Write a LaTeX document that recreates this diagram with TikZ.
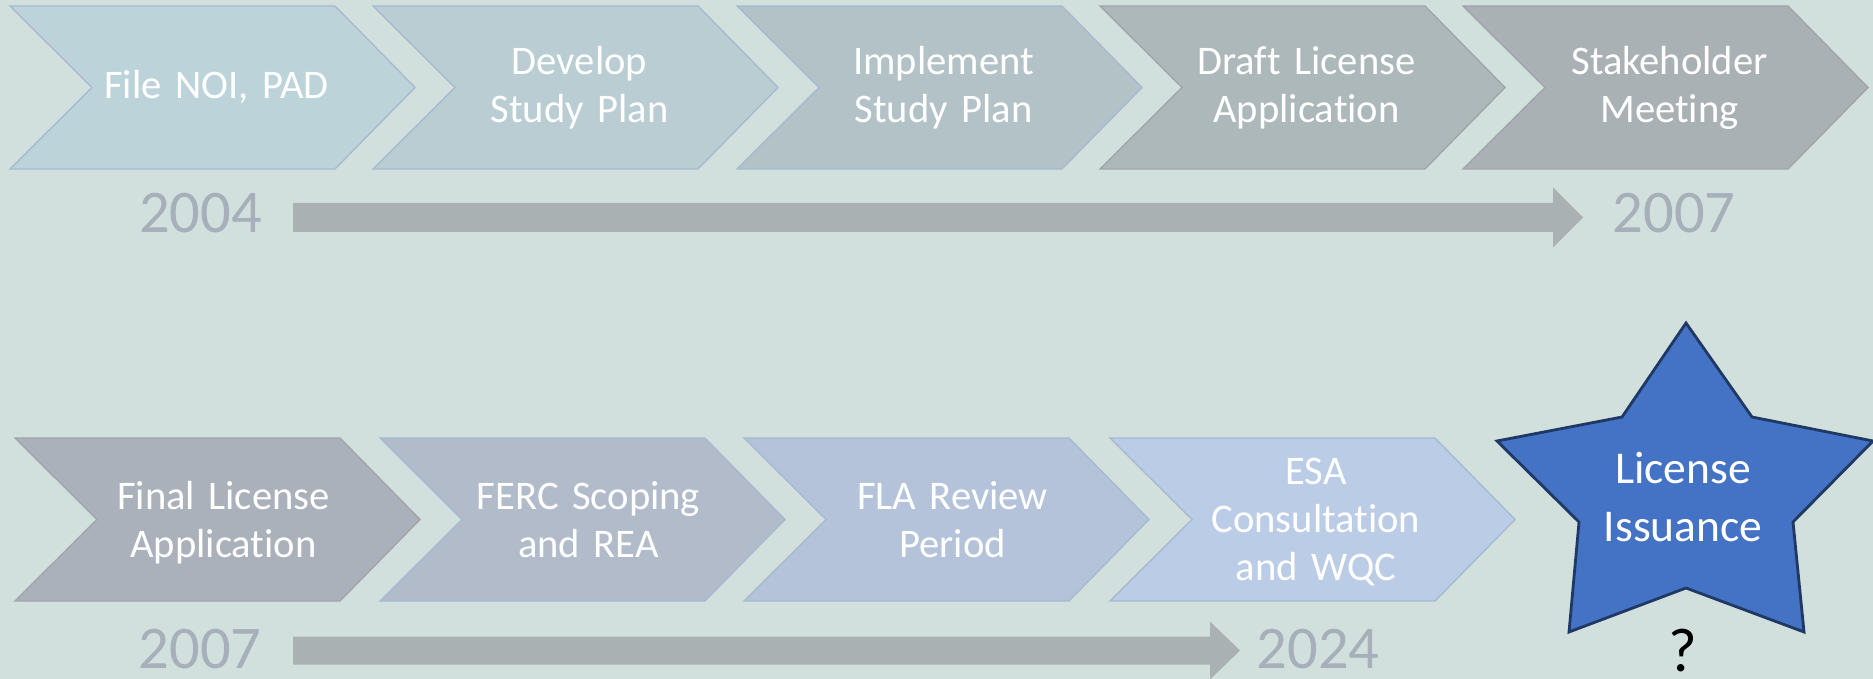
\documentclass[tikz,border=0pt]{standalone}
\usepackage{fontspec}
\setmainfont{Carlito}[Ligatures={NoCommon}, WordSpace=0.8]
\usetikzlibrary{calc}
\definecolor{bgc}{HTML}{D1E0DC}
\definecolor{tA}{HTML}{BDD3DA}
\definecolor{tB}{HTML}{B9CDD3}
\definecolor{tC}{HTML}{B2C2C7}
\definecolor{tD}{HTML}{ADB8BB}
\definecolor{tE}{HTML}{AAB1B4}
\definecolor{bA}{HTML}{ABB1BA}
\definecolor{bB}{HTML}{B1BBCA}
\definecolor{bC}{HTML}{B5C3DA}
\definecolor{bD}{HTML}{BBCCE6}
\definecolor{olBlue}{HTML}{A7BAD0}
\definecolor{olGray}{HTML}{9FA6A9}
\definecolor{arrowc}{HTML}{A9B1B3}
\definecolor{yearc}{HTML}{A6AFBA}
\definecolor{starfill}{HTML}{4472C4}
\definecolor{starline}{HTML}{1F3864}
\newcommand{\mychev}[4]{%
  \filldraw[fill=#3, draw=#4, line width=0.7pt, line join=miter]
    (#1,#2) -- ++(325,0) -- ++(80,81.5) -- ++(-80,81.5) -- ++(-325,0) -- ++(82,-81.5) -- cycle;}
\newcommand{\tlarrow}[4]{% start, end, half bar, half head
  \fill[arrowc] ($(#1)+(0,-#3)$) -- ($(#2)+(-30,-#3)$) -- ($(#2)+(-30,-#4)$) -- (#2)
    -- ($(#2)+(-30,#4)$) -- ($(#2)+(-30,#3)$) -- ($(#1)+(0,#3)$) -- cycle;}
\tikzset{
  chevtext/.style={text=white, font=\fontsize{20.3}{24}\selectfont, text width=170pt,
    align=center, anchor=base, inner sep=0pt},
  yeartext/.style={text=yearc, font=\fontsize{30.3}{36}\selectfont, anchor=base, inner sep=0pt},
  startext/.style={text=white, font=\fontsize{22.75}{29}\selectfont, text width=120pt,
    align=center, anchor=base, inner sep=0pt},
  qtext/.style={text=black, font=\fontsize{31}{36}\selectfont, anchor=base, inner sep=0pt},
}
\begin{document}
\begin{tikzpicture}[x=0.5pt, y=-0.5pt]
\useasboundingbox (0,0) rectangle (1873,679);
\fill[bgc] (0,0) rectangle (1873,679);
% top row chevrons
\mychev{10}{6}{tA}{olBlue}
\mychev{373}{6}{tB}{olBlue}
\mychev{737}{6}{tC}{olBlue}
\mychev{1100}{6}{tD}{olGray}
\mychev{1463}{6}{tE}{olGray}
\node[chevtext] (s1) at (216.5,99) {File NOI, PAD};
\node[chevtext] (s2) at (579.5,75) {Develop\\Study Plan};
\node[chevtext] (s3) at (943.5,75) {Implement\\Study Plan};
\node[chevtext] (s4) at (1306.5,75) {Draft License\\Application};
\node[chevtext] (s5) at (1669.5,75) {Stakeholder\\Meeting};
% bottom row chevrons
\mychev{15}{438}{bA}{olGray}
\mychev{380}{438}{bB}{olBlue}
\mychev{744}{438}{bC}{olBlue}
\mychev{1110}{438}{bD}{olBlue}
\node[chevtext] (s6) at (223.5,509) {Final License\\Application};
\node[chevtext] (s7) at (588.5,509) {FERC Scoping\\and REA};
\node[chevtext] (s8) at (952.5,509) {FLA Review\\Period};
\node[chevtext] (s9) at (1316,484) {ESA\\Consultation\\and WQC};
% years
\node[yeartext] (y2004) at (200.5,233) {2004};
\node[yeartext] (y2007a) at (1674,233) {2007};
\node[yeartext] (y2007b) at (200,668) {2007};
\node[yeartext] (y2024) at (1318,668) {2024};
% timeline arrows
\coordinate (t1s) at (293,217.5);
\coordinate (t1e) at (1583,217.5);
\coordinate (t2s) at (293,650.5);
\coordinate (t2e) at (1240,650.5);
\tlarrow{t1s}{t1e}{14.5}{30}
\tlarrow{t2s}{t2e}{14}{29}
% star
\coordinate (p1) at (1686,323);
\coordinate (p2) at (1752,417);
\coordinate (p3) at (1873,441);
\coordinate (p4) at (1793,522);
\coordinate (p5) at (1804,632);
\coordinate (p6) at (1686,588);
\coordinate (p7) at (1569,632);
\coordinate (p8) at (1579,522);
\coordinate (p9) at (1497,441);
\coordinate (p10) at (1622,417);
\filldraw[fill=starfill, draw=starline, line width=1.4pt, line join=miter]
  (p1) -- (p2) -- (p3) -- (p4) -- (p5) -- (p6) -- (p7) -- (p8) -- (p9) -- (p10) -- cycle;
\node[startext] (lic) at (1683,483) {License\\Issuance};
\node[qtext] (q) at (1683,671) {?};
\end{tikzpicture}
\end{document}
